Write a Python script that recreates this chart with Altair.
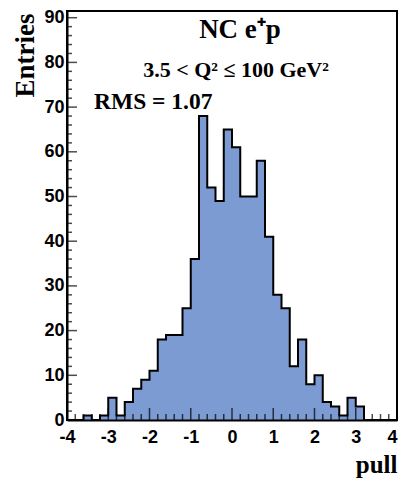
import altair as alt
import pandas as pd

# ---- data ----
bin_lo = [round(-4.0 + 0.2 * i, 1) for i in range(40)]
counts = [0, 0, 1, 0, 1, 5, 1, 4, 7, 9,
          11, 18, 19, 19, 25, 36, 68, 52, 49, 65,
          61, 50, 50, 58, 41, 28, 25, 12, 18, 8,
          10, 4, 3, 1, 5, 3, 0, 0, 0, 0]
x_major = [-4, -3, -2, -1, 0, 1, 2, 3, 4]
x_minor = [v for v in bin_lo + [4.0] if abs(v - round(v)) > 1e-6]
y_major = [0, 10, 20, 30, 40, 50, 60, 70, 80, 90]
y_minor = [v for v in range(2, 90, 2) if v % 10 != 0]
title_txt = ["NC e\u207ap"]
sub_txt = ["3.5 < Q\u00b2 \u2264 100 GeV\u00b2"]
rms_txt = ["RMS = 1.07"]

W, H = 330, 409
FILL = "#7b9bd2"
SANS = "Liberation Sans"
SERIF = "Liberation Serif"

hist = pd.DataFrame({"x": bin_lo + [4.0], "y": counts + [counts[-1]]})
xs = alt.Scale(domain=[-4, 4], nice=False, zero=False)
ys = alt.Scale(domain=[0, 91.5], nice=False)

xaxis = alt.Axis(values=x_major, labelExpr="toString(datum.value)", ticks=False,
                 grid=False, domain=True, domainColor="black", domainWidth=2,
                 labelFont=SANS, labelFontWeight="bold", labelFontSize=18,
                 labelColor="black", labelPadding=8, labelFlush=False,
                 labelOverlap=False,
                 labelAlign={"condition": {"test": "datum.value === 4", "value": "right"},
                             "value": "center"},
                 title="pull", titleFont=SERIF, titleFontWeight="bold",
                 titleFontSize=25, titleColor="black", titleX=330, titleY=52,
                 titleAlign="right", titleBaseline="alphabetic", zindex=1)
yaxis = alt.Axis(values=y_major, ticks=False, grid=False, domain=True,
                 domainColor="black", domainWidth=2,
                 labelFont=SANS, labelFontWeight="bold", labelFontSize=18,
                 labelColor="black", labelPadding=3, labelFlush=False,
                 labelOverlap=False,
                 title="Entries", titleFont=SERIF, titleFontWeight="bold",
                 titleFontSize=27, titleColor="black", titleAngle=270,
                 titleX=-34, titleY=2, titleAlign="right",
                 titleBaseline="alphabetic", zindex=1)

base = alt.Chart(hist)
fill = base.mark_area(interpolate="step-after", color=FILL).encode(
    x=alt.X("x:Q", scale=xs, axis=xaxis), y=alt.Y("y:Q", scale=ys, axis=yaxis))
outline = base.mark_line(interpolate="step-after", color="black", strokeWidth=2).encode(
    x=alt.X("x:Q", scale=xs), y=alt.Y("y:Q", scale=ys))

def xticks(vals, size):
    df = pd.DataFrame({"v": vals, "b": [0] * len(vals)})
    return alt.Chart(df).mark_tick(orient="vertical", size=size, thickness=1.5,
                                   yOffset=-size / 2, color="black").encode(
        x=alt.X("v:Q", scale=xs), y=alt.Y("b:Q", scale=ys))

def yticks(vals, size):
    df = pd.DataFrame({"v": vals, "b": [-4] * len(vals)})
    return alt.Chart(df).mark_tick(orient="horizontal", size=size, thickness=1.5,
                                   xOffset=size / 2, color="black").encode(
        y=alt.Y("v:Q", scale=ys), x=alt.X("b:Q", scale=xs))

def label(txt, x, y, size, align="center"):
    df = pd.DataFrame({"t": txt})
    return alt.Chart(df).mark_text(font=SERIF, fontWeight="bold", fontSize=size,
                                   align=align, baseline="alphabetic",
                                   color="black").encode(
        text="t:N", x=alt.value(x), y=alt.value(y))

chart = alt.layer(
    fill, outline,
    xticks(x_major, 12), xticks(x_minor, 6),
    yticks(y_major, 10), yticks(y_minor, 5),
    label(title_txt, 173, 27, 27),
    label(sub_txt, 169, 66, 22),
    label(rms_txt, 27, 98, 23.5, align="left"),
).properties(
    width=W, height=H,
    autosize=alt.AutoSizeParams(type="none"),
    padding={"left": 59, "top": 3, "right": 2, "bottom": 58},
    background="white",
).configure_view(stroke="black", strokeWidth=2)

chart.save("out.html", embed_options={"renderer": "svg", "actions": False})
